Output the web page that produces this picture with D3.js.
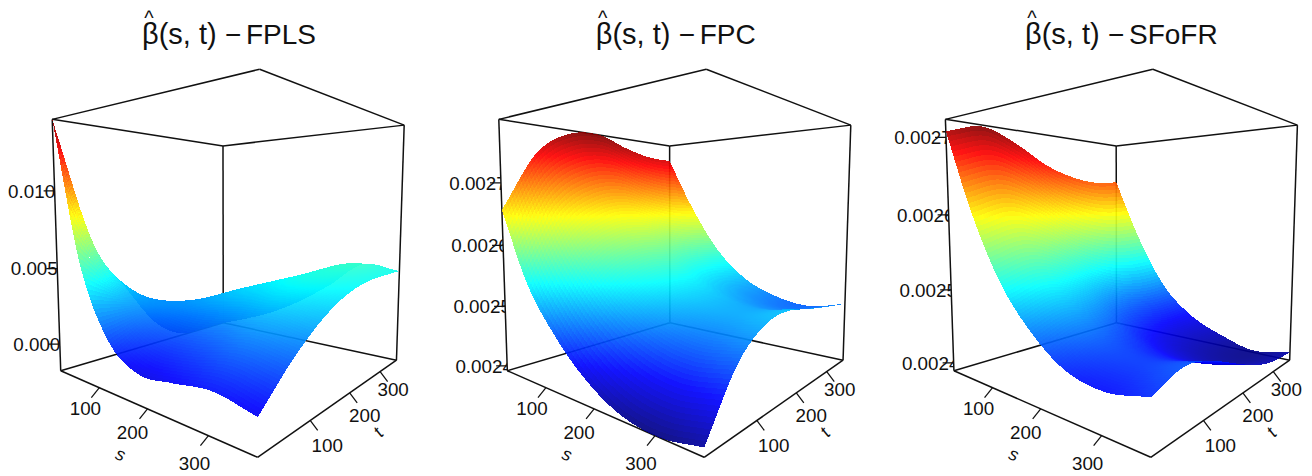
<!DOCTYPE html>
<html>
<head>
<meta charset="utf-8">
<script src="https://cdn.jsdelivr.net/npm/d3@7"></script>
<style>
  body { margin: 0; background: #fff; }
  text { font-family: "Liberation Sans", Arial, sans-serif; fill: #111; }
</style>
</head>
<body>
<svg id="chart" width="1312" height="476"></svg>
<script>
var sGrid = [1, 61, 122, 183, 244, 305, 365];
var tGrid = [1, 61, 122, 183, 244, 305, 365];
var sTicks = [100, 200, 300];
var tTicks = [100, 200, 300];

var panelNames = ["FPLS", "FPC", "SFoFR"];
var zDomains = [[-0.0018, 0.01446], [0.002392, 0.002799], [0.002389, 0.002723]];
var zTicks = [[0, 0.005, 0.01], [0.0024, 0.0025, 0.0026, 0.0027], [0.0024, 0.0025, 0.0026, 0.0027]];
var zFormats = [d3.format(".3f"), d3.format(".4f"), d3.format(".4f")];

// beta(s, t), rows are s, columns are t
var betaFpls = [
  [0.01446, 0.00649, 0.00292, -0.00017, -0.00164, -0.00180, -0.00180],
  [0.00552, 0.00357, 0.00259, 0.00145, 0.00031, -0.00050, -0.00099],
  [0.00129, 0.00210, 0.00259, 0.00243, 0.00178, 0.00080, -0.00001],
  [-0.00006, 0.00145, 0.00275, 0.00340, 0.00308, 0.00210, 0.00129],
  [0.00012, 0.00161, 0.00308, 0.00405, 0.00422, 0.00389, 0.00292],
  [0.00043, 0.00210, 0.00357, 0.00454, 0.00487, 0.00511, 0.00479],
  [0.00000, 0.00178, 0.00316, 0.00405, 0.00446, 0.00454, 0.00454]
];
var betaFpc = [
  [0.002657, 0.002754, 0.002793, 0.002799, 0.002781, 0.002768, 0.002765],
  [0.002545, 0.002640, 0.002679, 0.002687, 0.002671, 0.002661, 0.002658],
  [0.002477, 0.002567, 0.002603, 0.002608, 0.002589, 0.002577, 0.002571],
  [0.002429, 0.002514, 0.002549, 0.002552, 0.002536, 0.002523, 0.002517],
  [0.002400, 0.002483, 0.002517, 0.002521, 0.002508, 0.002496, 0.002490],
  [0.002392, 0.002471, 0.002506, 0.002509, 0.002497, 0.002486, 0.002480],
  [0.002403, 0.002480, 0.002514, 0.002518, 0.002508, 0.002500, 0.002493]
];
var betaSfofr = [
  [0.002708, 0.002721, 0.002703, 0.002676, 0.002660, 0.002653, 0.002656],
  [0.002603, 0.002616, 0.002600, 0.002574, 0.002558, 0.002551, 0.002553],
  [0.002523, 0.002536, 0.002520, 0.002496, 0.002479, 0.002472, 0.002473],
  [0.002473, 0.002487, 0.002473, 0.002451, 0.002436, 0.002428, 0.002429],
  [0.002442, 0.002457, 0.002446, 0.002427, 0.002412, 0.002405, 0.002406],
  [0.002434, 0.002448, 0.002437, 0.002418, 0.002402, 0.002394, 0.002392],
  [0.002444, 0.002457, 0.002447, 0.002429, 0.002412, 0.002403, 0.002401]
];
var betas = [betaFpls, betaFpc, betaSfofr];

var panelX = [0, 446.6, 893.2];
var titleX = [142, 595.7, 1025];

// screen position of the box corners, [s, t, z] in 0..1
var boxCorners = [
  [[0, 0, 0], [61, 371]], [[1, 0, 0], [257.3, 457.3]], [[1, 1, 0], [396.7, 360]], [[0, 1, 0], [223, 322.7]],
  [[0, 0, 1], [52.3, 119]], [[1, 0, 1], [259.3, 69.3]], [[1, 1, 1], [404.3, 125.3]], [[0, 1, 1], [223, 146]]
];
var boxEdges = [[0, 1], [1, 2], [2, 3], [3, 0], [4, 5], [5, 6], [6, 7], [7, 4], [0, 4], [2, 6], [3, 7]];

// tick marks keep one direction on the page, labels sit a bit further out
var sTickEnd = [-8, 10], tTickEnd = [7.5, 10];
var sLabelShift = [[-14, 21], [-15, 23], [-14, 28]];
var tLabelShift = [[17, 25], [15, 22], [13, 18]];

var jet = d3.scaleLinear()
  .domain([0, 1 / 8, 3 / 8, 5 / 8, 7 / 8, 1])
  .range(["#00007f", "#0000ff", "#00ffff", "#ffff00", "#ff0000", "#7f0000"]);

var sScale = d3.scaleLinear().domain([1, 365]).range([0, 1]);
var tScale = d3.scaleLinear().domain([1, 365]).range([0, 1]);

// least squares fit of the perspective matrix to the corners
function fitCamera(corners) {
  var rows = [], rhs = [];
  corners.forEach(function(c) {
    var X = c[0][0], Y = c[0][1], Z = c[0][2], x = c[1][0], y = c[1][1];
    rows.push([X, Y, Z, 1, 0, 0, 0, 0, -x * X, -x * Y, -x * Z]); rhs.push(x);
    rows.push([0, 0, 0, 0, X, Y, Z, 1, -y * X, -y * Y, -y * Z]); rhs.push(y);
  });
  var n = 11, A = [];
  for (var i = 0; i < n; i++) {
    A.push([]);
    for (var j = 0; j < n; j++) A[i].push(d3.sum(rows, function(r) { return r[i] * r[j]; }));
    A[i].push(d3.sum(rows, function(r, k) { return r[i] * rhs[k]; }));
  }
  for (i = 0; i < n; i++) {
    var p = i;
    for (j = i + 1; j < n; j++) if (Math.abs(A[j][i]) > Math.abs(A[p][i])) p = j;
    var tmp = A[i]; A[i] = A[p]; A[p] = tmp;
    for (j = 0; j < n; j++) {
      if (j === i) continue;
      var f = A[j][i] / A[i][i];
      for (var k = i; k <= n; k++) A[j][k] -= f * A[i][k];
    }
  }
  return A.map(function(r, i) { return r[n] / r[i]; });
}
var m = fitCamera(boxCorners);

function project(u, v, w) {
  var h = m[8] * u + m[9] * v + m[10] * w + 1;
  return {
    x: (m[0] * u + m[1] * v + m[2] * w + m[3]) / h,
    y: (m[4] * u + m[5] * v + m[6] * w + m[7]) / h,
    h: h
  };
}

// smooth curve through the read values, the same job curveCatmullRom does for a line
function catmull(a, x) {
  var n = a.length - 1, i = Math.min(Math.floor(x), n - 1), q = x - i;
  var p1 = a[i], p2 = a[i + 1];
  var p0 = i > 0 ? a[i - 1] : 2 * p1 - p2;
  var p3 = i < n - 1 ? a[i + 2] : 2 * p2 - p1;
  return 0.5 * (2 * p1 + (p2 - p0) * q + (2 * p0 - 5 * p1 + 4 * p2 - p3) * q * q + (3 * p1 - p0 - 3 * p2 + p3) * q * q * q);
}

var fine = 16;
var steps = d3.range((sGrid.length - 1) * fine + 1).map(function(i) { return i / fine; });
var sAt = d3.scaleLinear().domain(d3.range(sGrid.length)).range(sGrid);
var tAt = d3.scaleLinear().domain(d3.range(tGrid.length)).range(tGrid);

function refine(grid) {
  var cols = grid.map(function(row) { return steps.map(function(x) { return catmull(row, x); }); });
  return steps.map(function(x) {
    return steps.map(function(_, j) { return catmull(cols.map(function(c) { return c[j]; }), x); });
  });
}

var svg = d3.select("#chart");
var line = d3.line().x(function(d) { return d.x; }).y(function(d) { return d.y; });

panelNames.forEach(function(name, idx) {
  var g = svg.append("g").attr("transform", "translate(" + panelX[idx] + ",0)");
  var zScale = d3.scaleLinear().domain(zDomains[idx]).range([0, 1]);

  // box
  g.append("g").selectAll("path")
    .data(boxEdges)
    .enter().append("path")
      .attr("d", function(e) {
        return line([e[0], e[1]].map(function(i) { var c = boxCorners[i][0]; return project(c[0], c[1], c[2]); }));
      })
      .attr("fill", "none").attr("stroke", "#111").attr("stroke-width", 1.5);

  // z axis, labels cut at the box edge
  var top = project(0, 0, 1), bottom = project(0, 0, 0);
  g.append("clipPath").attr("id", "zclip" + idx)
    .append("polygon").attr("points", [[-60, top.y - 100], [top.x, top.y - 100], [top.x, top.y], [bottom.x, bottom.y], [bottom.x, bottom.y + 100], [-60, bottom.y + 100]].join(" "));
  var zAxis = g.append("g").attr("clip-path", "url(#zclip" + idx + ")");
  zTicks[idx].forEach(function(z) {
    var p = project(0, 0, zScale(z));
    zAxis.append("line").attr("x1", p.x - 11).attr("x2", p.x).attr("y1", p.y).attr("y2", p.y).attr("stroke", "#111").attr("stroke-width", 1.25);
    zAxis.append("text").attr("x", p.x - 23).attr("y", p.y).attr("dy", "0.36em")
      .attr("text-anchor", "middle").attr("font-size", 18.8).text(zFormats[idx](z));
  });

  // s axis
  sTicks.forEach(function(s, i) {
    var a = project(sScale(s), 0, 0);
    g.append("line").attr("x1", a.x).attr("y1", a.y).attr("x2", a.x + sTickEnd[0]).attr("y2", a.y + sTickEnd[1]).attr("stroke", "#111").attr("stroke-width", 1.25);
    g.append("text").attr("x", a.x + sLabelShift[i][0]).attr("y", a.y + sLabelShift[i][1]).attr("dy", "0.36em")
      .attr("text-anchor", "middle").attr("font-size", 18.8).text(s);
  });
  // t axis
  tTicks.forEach(function(t, i) {
    var a = project(1, tScale(t), 0);
    g.append("line").attr("x1", a.x).attr("y1", a.y).attr("x2", a.x + tTickEnd[0]).attr("y2", a.y + tTickEnd[1]).attr("stroke", "#111").attr("stroke-width", 1.25);
    g.append("text").attr("x", a.x + tLabelShift[i][0]).attr("y", a.y + tLabelShift[i][1]).attr("dy", "0.36em")
      .attr("text-anchor", "middle").attr("font-size", 18.8).text(t);
  });
  g.append("text").attr("transform", "translate(120.7,454) rotate(20)").attr("dy", "0.36em")
    .attr("text-anchor", "middle").attr("font-size", 18).attr("font-style", "italic").text("s");
  g.append("text").attr("transform", "translate(378,432) rotate(-50)").attr("dy", "0.36em")
    .attr("text-anchor", "middle").attr("font-size", 18).attr("font-style", "italic").text("t");

  // surface, far cells first
  var grid = refine(betas[idx]);
  var cells = [];
  var n = grid.length - 1;
  for (var i = 0; i < n; i++) {
    for (var j = 0; j < n; j++) {
      var corners = [[i, j], [i + 1, j], [i + 1, j + 1], [i, j + 1]].map(function(c) {
        return project(sScale(sAt(steps[c[0]])), tScale(tAt(steps[c[1]])), zScale(grid[c[0]][c[1]]));
      });
      var mean = (grid[i][j] + grid[i + 1][j] + grid[i + 1][j + 1] + grid[i][j + 1]) / 4;
      cells.push({ pts: corners, level: zScale(mean), depth: d3.mean(corners, function(c) { return c.h; }) });
    }
  }
  cells.sort(function(a, b) { return b.depth - a.depth; });
  g.append("g").style("filter", "blur(0.5px)").selectAll("path")
    .data(cells)
    .enter().append("path")
      .attr("d", function(d) { return line(d.pts) + "Z"; })
      .attr("fill", function(d) { return jet(d.level); })
      .attr("fill-opacity", 0.92)
      .attr("shape-rendering", "crispEdges");
});

// titles
panelNames.forEach(function(name, idx) {
  var g = svg.append("g").attr("transform", "translate(" + titleX[idx] + ",0)");
  g.append("text").attr("x", 7).attr("y", 25).attr("text-anchor", "middle").attr("font-size", 20).text("^");
  g.append("text").attr("y", 44).attr("font-size", 29).text("β(s, t)");
  g.append("text").attr("x", 83).attr("y", 44).attr("font-size", 28).text("−");
  g.append("text").attr("x", 104).attr("y", 44).attr("font-size", 28).text(name);
});
</script>
</body>
</html>
